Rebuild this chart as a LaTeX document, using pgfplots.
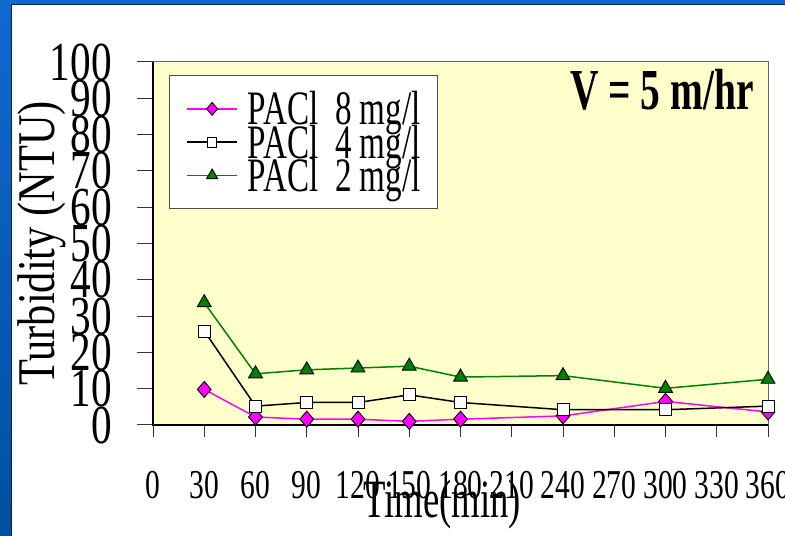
\documentclass[border=0pt]{standalone}
\usepackage{fontspec}
\usepackage{pgfplots}
\pgfplotsset{compat=1.18}
\setmainfont{Liberation Serif}
% narrow serif faces used throughout the chart
\newfontfamily\xtickfont{Liberation Serif}[FakeStretch=0.72]
\newfontfamily\ytickfont{Liberation Serif}[FakeStretch=0.75]
\newfontfamily\xlabfont{Liberation Serif}[FakeStretch=0.68]
\newfontfamily\ylabfont{Liberation Serif}[FakeStretch=0.80]
\newfontfamily\legfont{Liberation Serif}[FakeStretch=0.69]
\newfontfamily\titlefont{Liberation Serif}[FakeStretch=0.68]
\newcommand\fs[1]{\fontsize{#1}{#1}\selectfont}

\definecolor{plotbg}{RGB}{255,255,204}
\definecolor{pacmag}{RGB}{255,0,255}
\definecolor{pacgreen}{RGB}{0,128,0}
\definecolor{frametop}{RGB}{16,104,208}
\definecolor{framebot}{RGB}{0,80,160}

% turbidity (NTU) against time (min)
\pgfplotstableread{
t    v
30   9.8
60   2.2
90   1.6
120  1.6
150  1.0
180  1.6
240  2.5
300  6.5
360  3.6
}\pacleight
\pgfplotstableread{
t    v
30   25.9
60   5.2
90   6.2
120  6.2
150  8.3
180  6.2
240  4.2
300  4.2
360  5.2
}\paclfour
\pgfplotstableread{
t    v
30   33.7
60   14.1
90   15.2
120  15.7
150  16.2
180  13.2
240  13.6
300  10.1
360  12.6
}\pacltwo

\begin{document}
\begin{tikzpicture}[x=1bp,y=1bp]
\useasboundingbox (0,0) rectangle (785,536);
% slide frame
\shade[top color=frametop, bottom color=framebot] (0,0) rectangle (785,536);
\fill[white] (12,0) rectangle (785,531);
\draw[line width=1bp, black!60!framebot] (11.5,0) -- (11.5,531.5) -- (785,531.5);

\begin{axis}[
  at={(153bp,111bp)}, anchor=south west,
  scale only axis, width=615bp, height=363bp,
  xmin=0, xmax=360, ymin=0, ymax=100,
  xtick={0,30,...,360}, ytick={0,10,...,100},
  xtick pos=bottom, ytick pos=left,
  axis background/.style={fill=plotbg},
  axis line style={gray!80!black, line width=1bp},
  tick align=outside,
  major tick length=16bp,
  tick style={black!80, line width=1bp},
  xtick style={/pgfplots/major tick length=12bp},
  /pgf/number format/assume math mode=true,
  xticklabel style={font=\xtickfont\fs{41bp}, anchor=north, inner sep=0pt, yshift=-30bp},
  yticklabel style={font=\ytickfont\fs{55bp}, anchor=east, inner sep=0pt, xshift=-25bp},
  xlabel={Time(min)},
  ylabel={Turbidity (NTU)},
  xlabel style={font=\xlabfont\fs{54bp}, at={(axis description cs:0.47,-0.2204)}, anchor=center, inner sep=0pt},
  ylabel style={font=\ylabfont\fs{53bp}, at={(axis description cs:-0.1805,0.5)}, anchor=center, inner sep=0pt},
  clip=false,
  legend cell align=left,
  legend style={at={(axis description cs:0.026,0.964)}, anchor=north west,
    draw=black!70, fill=white, line width=0.8bp,
    font=\legfont\fs{48bp},
    inner xsep=17bp, inner ysep=16bp, column sep=10bp, row sep=-1.5bp,
    nodes={inner sep=0pt}},
  legend image code/.code={%
    \draw[#1, mark repeat=2, mark phase=2, /tikz/every mark/.append style={scale=0.8}]
      plot coordinates {(0bp,0bp) (25bp,0bp) (50bp,0bp)};},
]
\addplot[pacmag, line width=1.5bp, mark=diamond*,
  mark options={fill=pacmag, draw=black, line width=0.9bp, xscale=1.15}, mark size=8bp]
  table[x=t, y=v] {\pacleight};
\addlegendentry{PACl\ \ 8 mg/l}
\addplot[black, line width=1.5bp, mark=square*,
  mark options={fill=white, draw=black, line width=0.9bp}, mark size=6bp]
  table[x=t, y=v] {\paclfour};
\addlegendentry{PACl\ \ 4 mg/l}
\addplot[pacgreen, line width=1.5bp, mark=triangle*,
  mark options={fill=pacgreen, draw=black, line width=0.9bp}, mark size=8bp]
  table[x=t, y=v] {\pacltwo};
\addlegendentry{PACl\ \ 2 mg/l}
% axes drawn in black on the left and bottom
\draw[black, line width=1.2bp] (rel axis cs:0,1) -- (rel axis cs:0,0) -- (rel axis cs:1,0);
\end{axis}

\node[anchor=north east, inner sep=0pt, font=\titlefont\bfseries\fs{58bp}] at (754,467) {V = 5 m/hr};
\end{tikzpicture}
\end{document}
